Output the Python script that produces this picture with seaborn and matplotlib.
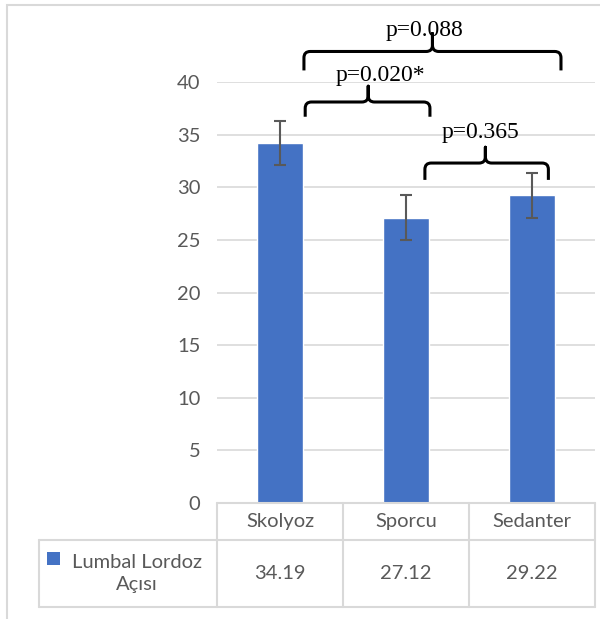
import numpy as np
import pandas as pd
import matplotlib
matplotlib.use("Agg")
import matplotlib.pyplot as plt
import seaborn as sns
from matplotlib.path import Path
from matplotlib.patches import PathPatch, Rectangle
from matplotlib.lines import Line2D
from matplotlib.transforms import blended_transform_factory

# data
categories = ["Skolyoz", "Sporcu", "Sedanter"]
values = [34.19, 27.12, 29.22]
errors = [2.1, 2.1, 2.1]
series_name = "Lumbal Lordoz\nAçısı"
y_ticks = [0, 5, 10, 15, 20, 25, 30, 35, 40]
# comparisons: (left bar, right bar, label)
comparisons = [(0, 2, "p=0.088"), (0, 1, "p=0.020*"), (1, 2, "p=0.365")]

df = pd.DataFrame({"grup": categories, "aci": values})

blue = "#4472C4"
txt = "#595959"
grid = "#d9d9d9"

sns.set_style("white")
plt.rcParams["font.family"] = ["Lato", "DejaVu Sans"]

fig = plt.figure(figsize=(6, 6.19), dpi=100)
ax = fig.add_axes([217/600, 1-503/619, (595-217)/600, (503-82)/619])

sns.barplot(data=df, x="grup", y="aci", color=blue, width=0.36,
            errorbar=None, saturation=1, ax=ax)
ax.errorbar(np.arange(len(values)), values, yerr=errors, fmt="none",
            ecolor=txt, elinewidth=1.5, capsize=4.5, capthick=1.5, zorder=3)

ax.set_ylim(0, 40)
ax.set_yticks(y_ticks)
ax.set_xticks([])
ax.set_xlabel("")
ax.set_ylabel("")
ax.tick_params(axis="y", length=0, pad=12, labelsize=14.5, labelcolor=txt)
ax.yaxis.grid(True, color=grid, lw=1.2)
ax.set_axisbelow(True)
for s in ax.spines.values():
    s.set_visible(False)

# outer frame
fig.add_artist(Rectangle((7/600, -0.1), 1.2, 1.1 - 5/619,
                         transform=fig.transFigure, fill=False,
                         edgecolor=grid, lw=1.5))


# curly brackets with p values
def brace(x0, x1, xm, y, drop, peak):
    rx = 0.05
    ry = 0.6
    verts = [(x0, y - drop), (x0, y - ry), (x0, y), (x0 + rx, y),
             (xm - rx, y), (xm, y), (xm, y + ry), (xm, y + peak),
             (xm, y + ry), (xm, y), (xm + rx, y),
             (x1 - rx, y), (x1, y), (x1, y - ry), (x1, y - drop)]
    codes = [Path.MOVETO, Path.LINETO, Path.CURVE3, Path.CURVE3,
             Path.LINETO, Path.CURVE3, Path.CURVE3, Path.LINETO,
             Path.LINETO, Path.CURVE3, Path.CURVE3,
             Path.LINETO, Path.CURVE3, Path.CURVE3, Path.LINETO]
    ax.add_artist(PathPatch(Path(verts, codes), fill=False, lw=2.2,
                            edgecolor="black", clip_on=False,
                            transform=ax.transData,
                            capstyle="butt", joinstyle="round"))


brace_geo = {"p=0.088": (0.19, 2.23, 1.21, 42.9, 1.8, 1.7, 1.15, 44.9),
             "p=0.020*": (0.20, 1.19, 0.70, 38.1, 1.4, 1.5, 0.80, 40.6),
             "p=0.365": (1.15, 2.13, 1.63, 32.3, 1.6, 1.5, 1.59, 35.2)}
for a, b, lab in comparisons:
    x0, x1, xm, y, drop, peak, tx, ty = brace_geo[lab]
    brace(x0, x1, xm, y, drop, peak)
    ax.text(tx, ty, lab, ha="center", va="center", fontsize=17,
            family="Liberation Serif", color="black", clip_on=False)

# data table under the chart
tr = blended_transform_factory(ax.transData, ax.transAxes)
r0, r1, r2 = 0.0, -37/421, -104/421
left = -1.913
n = len(categories)
lines = [((-0.5, n - 0.5), (r0, r0)), ((left, n - 0.5), (r1, r1)),
         ((left, n - 0.5), (r2, r2)), ((left, left), (r1, r2))]
for i in range(n + 1):
    lines.append(((i - 0.5, i - 0.5), (r0, r2)))
for xs, ys in lines:
    ax.add_artist(Line2D(xs, ys, transform=tr, color=grid, lw=1.5,
                         clip_on=False))

for i, (c, v) in enumerate(zip(categories, values)):
    ax.text(i, (r0 + r1) / 2, c, transform=tr, ha="center", va="center",
            fontsize=14.5, color=txt, clip_on=False)
    ax.text(i, (r1 + r2) / 2, f"{v:.2f}", transform=tr, ha="center",
            va="center", fontsize=14.5, color=txt, clip_on=False)

ax.text(-1.135, (r1 + r2) / 2, series_name, transform=tr, ha="center",
        va="center", fontsize=14.5, color=txt, linespacing=1.3,
        multialignment="center", clip_on=False)
ax.add_artist(Rectangle((-1.849, -49/421), 0.103, -13/421, transform=tr,
                        facecolor=blue, edgecolor="none", clip_on=False))

ax.set_xlim(-0.5, n - 0.5)

fig.savefig("out.png", dpi=100)
